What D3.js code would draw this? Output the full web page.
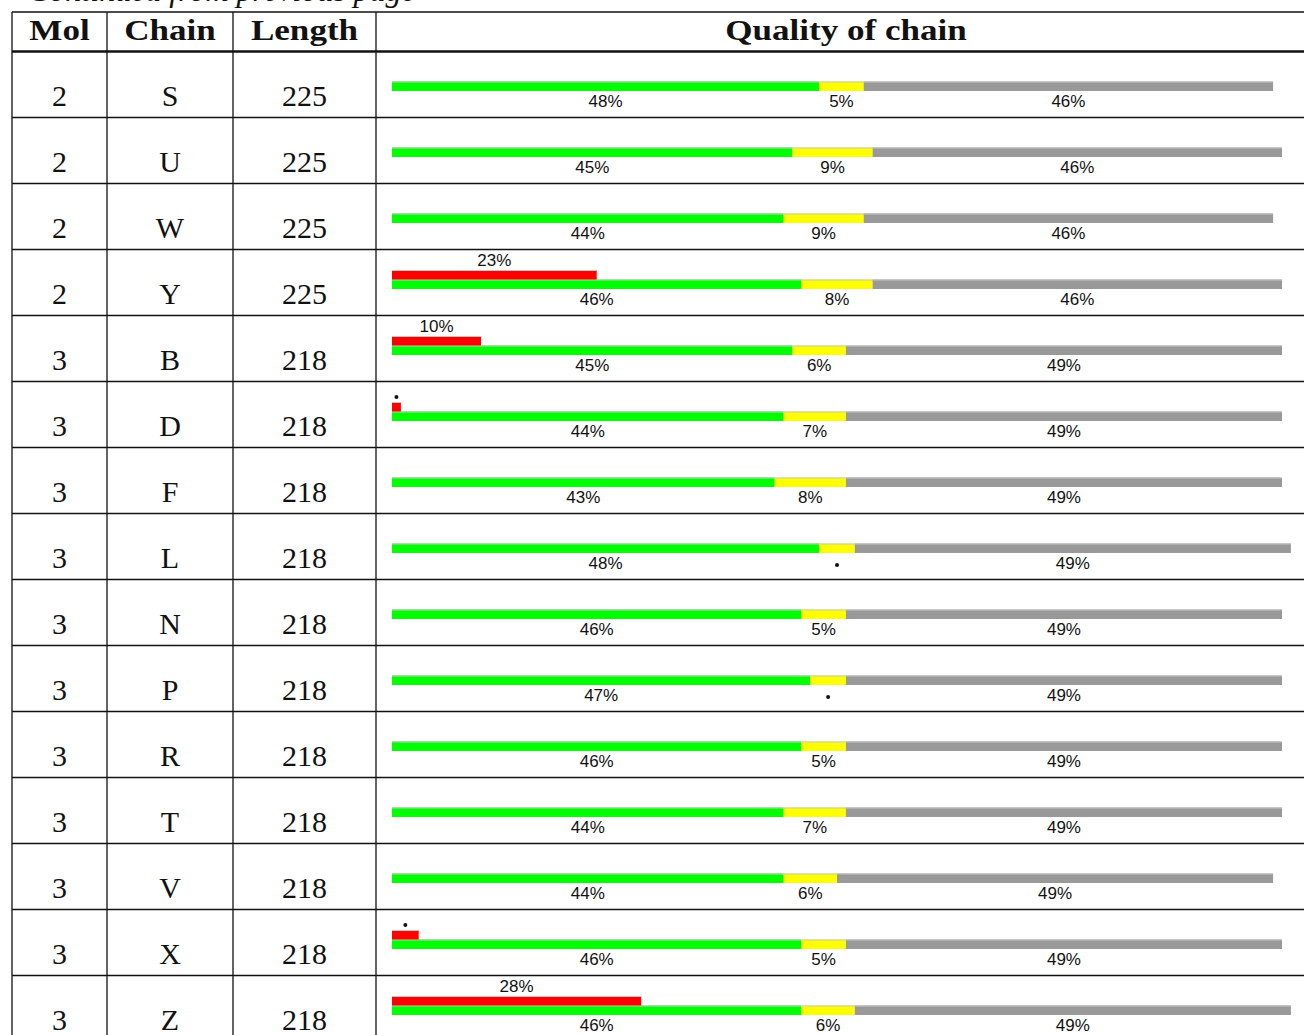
<!DOCTYPE html>
<html>
<head>
<meta charset="utf-8">
<script src="https://cdn.jsdelivr.net/npm/d3@7"></script>
<style>
  body { margin: 0; background: #fff; overflow: hidden; }
  .cell { font-family: "Liberation Serif", serif; font-size: 30px; fill: #111; }
  .head { font-family: "Liberation Serif", serif; font-size: 29px; font-weight: bold; fill: #111; }
  .pct { font-family: "Liberation Sans", Arial, sans-serif; font-size: 17px; fill: #111; }
</style>
</head>
<body>
<div id="chart"></div>
<script>
// table contents
var mols = [2, 2, 2, 2, 3, 3, 3, 3, 3, 3, 3, 3, 3, 3, 3];
var chains = ["S", "U", "W", "Y", "B", "D", "F", "L", "N", "P", "R", "T", "V", "X", "Z"];
var lengths = [225, 225, 225, 225, 218, 218, 218, 218, 218, 218, 218, 218, 218, 218, 218];

// quality percentages (green = good, yellow, grey, red on top)
var greenPct = [48, 45, 44, 46, 45, 44, 43, 48, 46, 47, 46, 44, 44, 46, 46];
var yellowPct = [5, 9, 9, 8, 6, 7, 8, 4, 5, 4, 5, 7, 6, 5, 6];
var greyPct = [46, 46, 46, 46, 49, 49, 49, 49, 49, 49, 49, 49, 49, 49, 49];
var redPct = [0, 0, 0, 23, 10, 1, 0, 0, 0, 0, 0, 0, 0, 3, 28];

var headers = ["Mol", "Chain", "Length", "Quality of chain"];

var svgWidth = 1304;
var svgHeight = 1035;

var svg = d3.select("#chart")
  .append("svg")
  .attr("width", svgWidth)
  .attr("height", svgHeight);

// column edges and row positions
var colEdges = [12, 107, 233, 376, 1316];
var headTop = 12;
var rowH = 66;
var y = d3.scaleBand()
  .domain(d3.range(chains.length))
  .range([51.5, 51.5 + rowH * chains.length])
  .padding(0);

// bar scale, 0-100 %
var x = d3.scaleLinear().domain([0, 100]).range([392, 1282]);

// cut-off caption from previous page
svg.append("text")
  .attr("x", 28)
  .attr("y", 1)
  .style("font-family", "Liberation Serif, serif")
  .style("font-style", "italic")
  .style("font-size", "32px")
  .attr("fill", "#111")
  .text("Continued from previous page");

// header text
headers.forEach(function(h, i) {
  var cx = (colEdges[i] + colEdges[i + 1]) / 2;
  svg.append("text")
    .attr("class", "head")
    .attr("text-anchor", "middle")
    .attr("transform", `translate(${cx}, 40) scale(1.21, 1)`)
    .text(h);
});

// body cells
var rows = svg.selectAll("g.row")
  .data(chains)
  .enter()
  .append("g")
  .attr("class", "row")
  .attr("transform", (d, i) => `translate(0, ${y(i)})`);

[mols, chains, lengths].forEach(function(col, c) {
  var cx = (colEdges[c] + colEdges[c + 1]) / 2;
  rows.append("text")
    .attr("class", "cell")
    .attr("x", cx)
    .attr("y", 54.5)
    .attr("text-anchor", "middle")
    .text((d, i) => col[i]);
});

// stacked quality bar
var colors = ["#00ff00", "#ffff00", "#999999"];
rows.each(function(d, i) {
  var g = d3.select(this);
  var parts = [greenPct[i], yellowPct[i], greyPct[i]];
  var start = 0;
  parts.forEach(function(p, k) {
    var x0 = x(start), x1 = x(start + p);
    g.append("rect")
      .attr("x", x0)
      .attr("y", 30)
      .attr("width", x1 - x0)
      .attr("height", 9.5)
      .attr("fill", colors[k]);
    g.append("line")
      .attr("x1", x0).attr("x2", x1)
      .attr("y1", 30.5).attr("y2", 30.5)
      .attr("stroke", "#c4c4c4")
      .attr("stroke-width", 1);
    if (p < 5) {
      g.append("circle")
        .attr("cx", (x0 + x1) / 2)
        .attr("cy", 51.5)
        .attr("r", 2)
        .attr("fill", "#111");
    } else {
      g.append("text")
        .attr("class", "pct")
        .attr("x", (x0 + x1) / 2)
        .attr("y", 55)
        .attr("text-anchor", "middle")
        .text(p + "%");
    }
    start += p;
  });

  if (redPct[i] > 0) {
    var r1 = x(redPct[i]);
    g.append("rect")
      .attr("x", x(0))
      .attr("y", 20.5)
      .attr("width", r1 - x(0))
      .attr("height", 9.5)
      .attr("fill", "#ff0000");
    g.append("line")
      .attr("x1", x(0)).attr("x2", r1)
      .attr("y1", 21).attr("y2", 21)
      .attr("stroke", "#c4c4c4");
    if (redPct[i] < 5) {
      g.append("circle")
        .attr("cx", (x(0) + r1) / 2)
        .attr("cy", 15.5)
        .attr("r", 2)
        .attr("fill", "#111");
    } else {
      g.append("text")
        .attr("class", "pct")
        .attr("x", (x(0) + r1) / 2)
        .attr("y", 16)
        .attr("text-anchor", "middle")
        .text(redPct[i] + "%");
    }
  }
});

// grid lines
var bottom = y.range()[1];
svg.append("line")
  .attr("x1", colEdges[0]).attr("x2", colEdges[4])
  .attr("y1", headTop).attr("y2", headTop)
  .attr("stroke", "#111").attr("stroke-width", 1.3);
svg.append("line")
  .attr("x1", colEdges[0]).attr("x2", colEdges[4])
  .attr("y1", 51.5).attr("y2", 51.5)
  .attr("stroke", "#111").attr("stroke-width", 2.4);
svg.selectAll("line.hrow")
  .data(d3.range(1, chains.length + 1))
  .enter()
  .append("line")
  .attr("class", "hrow")
  .attr("x1", colEdges[0]).attr("x2", colEdges[4])
  .attr("y1", d => y(0) + d * rowH).attr("y2", d => y(0) + d * rowH)
  .attr("stroke", "#111").attr("stroke-width", 1.3);
svg.selectAll("line.vcol")
  .data(colEdges)
  .enter()
  .append("line")
  .attr("class", "vcol")
  .attr("x1", d => d).attr("x2", d => d)
  .attr("y1", headTop).attr("y2", bottom)
  .attr("stroke", "#111").attr("stroke-width", 1.3);
</script>
</body>
</html>
